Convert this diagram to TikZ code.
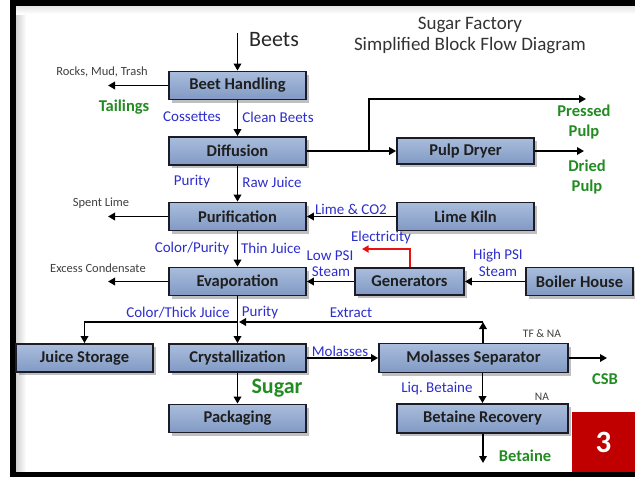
\documentclass[tikz,border=0pt]{standalone}
\usepackage{fontspec}
\setmainfont{Carlito}
\usetikzlibrary{arrows.meta,shadows,calc}
\definecolor{boxtop}{HTML}{A9BDDC}
\definecolor{boxbot}{HTML}{8199C4}
\definecolor{boxline}{HTML}{1C1C28}
\definecolor{lblblue}{RGB}{45,45,205}
\definecolor{grn}{RGB}{34,139,34}
\definecolor{redbox}{HTML}{C00000}
\definecolor{elec}{HTML}{E81010}
\frenchspacing
\begin{document}
\begin{tikzpicture}[x=1pt,y=-1pt,
  blk/.style={draw=boxline, line width=1.8pt, top color=boxtop, bottom color=boxbot,
    minimum height=28pt, inner sep=0pt, font=\fontsize{16.5}{18}\selectfont\bfseries,
    text=black!88, drop shadow={shadow xshift=3pt, shadow yshift=-3pt, opacity=0.25, fill=black}},
  flow/.style={line width=1.8pt, -{Triangle[length=7pt,width=7.5pt]}},
  lbl/.style={text=lblblue, font=\fontsize{15}{17}\selectfont, inner sep=0pt},
  grnlbl/.style={text=grn, font=\fontsize{16.5}{18}\selectfont\bfseries, inner sep=0pt},
  sml/.style={text=black!75, font=\fontsize{12.5}{14}\selectfont, inner sep=0pt},
]
\useasboundingbox (0,0) rectangle (635,480);
% frame
\shade[left color=black!18, right color=white] (16,6) rectangle (26,472);
\shade[top color=black!10, bottom color=white] (16,6) rectangle (635,14);
\fill[black] (10,0) rectangle (635,6);
\fill[black] (10,0) rectangle (16,477);
\fill[black] (10,472) rectangle (635,477);

% title
\node[text=black!80, font=\fontsize{19}{21}\selectfont, align=center] (title) at (470,35) {Sugar Factory\\Simplified Block Flow Diagram};

% blocks
\node[blk, minimum width=137pt] (bh) at (237.5,85.5) {Beet Handling};
\node[blk, minimum width=137pt] (diff) at (237.5,151) {Diffusion};
\node[blk, minimum width=137pt] (pur) at (237.5,216.5) {Purification};
\node[blk, minimum width=137pt] (evap) at (237.5,281.5) {Evaporation};
\node[blk, minimum width=137pt] (cry) at (237.5,358) {Crystallization};
\node[blk, minimum width=137pt] (pack) at (237.5,418.5) {Packaging};
\node[blk, minimum width=137pt] (js) at (84.5,358) {Juice Storage};
\node[blk, minimum width=137pt, minimum height=26pt] (pd) at (465.5,151) {Pulp Dryer};
\node[blk, minimum width=137pt] (lk) at (465.5,216.5) {Lime Kiln};
\node[blk, minimum width=109pt, minimum height=27pt] (gen) at (409.5,281.5) {Generators};
\node[blk, minimum width=107pt] (bhouse) at (579.5,281.5) {Boiler House};
\node[blk, minimum width=189pt, minimum height=29pt] (ms) at (473.5,358) {Molasses Separator};
\node[blk, minimum width=171pt, minimum height=29pt] (br) at (482.5,418.5) {Betaine Recovery};

% coordinates
\coordinate (beets) at (237.5,33);
\coordinate (tail) at (108,85.5);
\coordinate (pp1) at (369,151);
\coordinate (pp2) at (369,99);
\coordinate (pp3) at (586,99);
\coordinate (dp) at (584,151);
\coordinate (sl) at (108,216.5);
\coordinate (ec) at (108,281.5);
\coordinate (e1) at (410,249);
\coordinate (e2) at (362,249);
\coordinate (j) at (237.5,322);
\coordinate (jx) at (239,322);
\coordinate (jl) at (84.5,322);
\coordinate (jr) at (483,322);
\coordinate (csb) at (607,358);
\coordinate (bet) at (483,463);

% flows
\draw[flow] (beets) -- (bh);
\draw[flow] (bh) -- (tail);
\draw[flow] (bh) -- (diff);
\draw[flow] (diff) -- (pd);
\draw[flow] (pp1) -- (pp2) -- (pp3);
\draw[flow] (pd) -- (dp);
\draw[flow] (diff) -- (pur);
\draw[flow] (pur) -- (sl);
\draw[flow] (lk) -- (pur);
\draw[flow] (pur) -- (evap);
\draw[flow] (evap) -- (ec);
\draw[flow] (gen) -- (evap);
\draw[flow] (bhouse) -- (gen);
\draw[draw=elec, line width=1.6pt, -{Triangle[length=6.5pt,width=7pt]}] (gen.north -| e1) -- (e1) -- (e2);
\draw[flow] (evap) -- (cry);
\draw[flow] (j) -- (jl) -- (js);
\draw[flow] (ms.north -| jr) -- (jr);
\draw[flow] (jr) -- (jx);
\draw[flow] (cry) -- (ms);
\draw[flow] (cry) -- (pack);
\draw[flow] (ms) -- (csb);
\draw[flow] (ms.south -| br.north) -- (br);
\draw[flow] (br.south -| bet) -- (bet);

% labels
\node[anchor=west, text=black!85, font=\fontsize{22}{24}\selectfont, inner sep=0pt] (lbeets) at (249,40) {Beets};
\node[sml] (lrocks) at (102,72) {Rocks, Mud, Trash};
\node[grnlbl] (ltail) at (124,107) {Tailings};
\node[lbl] (lcos) at (192,117) {Cossettes};
\node[lbl] (lclean) at (278,117) {Clean Beets};
\node[grnlbl, align=center, font=\fontsize{16.5}{20}\selectfont\bfseries] (lpressed) at (584,122) {Pressed\\Pulp};
\node[grnlbl, align=center, font=\fontsize{16.5}{20}\selectfont\bfseries] (ldried) at (587,177) {Dried\\Pulp};
\node[lbl] (lpur1) at (192,182) {Purity};
\node[lbl] (lraw) at (272,182) {Raw Juice};
\node[sml] (lspent) at (101,203) {Spent Lime};
\node[lbl] (llime) at (351,209) {Lime \& CO2};
\node[lbl] (lcolp) at (192,248) {Color/Purity};
\node[lbl] (lthin) at (271,248) {Thin Juice};
\node[sml] (lexc) at (98,268) {Excess Condensate};
\node[lbl] (lelec) at (381,237) {Electricity};
\node[lbl] (llow) at (330,256) {Low PSI};
\node[lbl] (lst1) at (331,272) {Steam};
\node[lbl] (lhigh) at (498,256) {High PSI};
\node[lbl] (lst2) at (498,272) {Steam};
\node[lbl] (lcolt) at (178,313) {Color/Thick Juice};
\node[lbl] (lpur2) at (260,313) {Purity};
\node[lbl] (lext) at (351,313) {Extract};
\node[lbl] (lmol) at (340,351) {Molasses};
\node[sml, font=\fontsize{11.5}{13}\selectfont] (ltf) at (542,334) {TF \& NA};
\node[grnlbl] (lcsb) at (605,379) {CSB};
\node[lbl] (lliq) at (437,389) {Liq. Betaine};
\node[sml, font=\fontsize{11.5}{13}\selectfont] (lna) at (542,397) {NA};
\node[grnlbl] (lbet) at (525,456) {Betaine};
\node[grnlbl, font=\fontsize{22}{24}\selectfont\bfseries] (lsugar) at (277,388) {Sugar};

% red box
\node[fill=redbox, minimum width=63pt, minimum height=60pt, inner sep=0pt, text=white, font=\fontsize{31}{31}\selectfont\bfseries] (three) at (603.5,442) {3};
\end{tikzpicture}
\end{document}
